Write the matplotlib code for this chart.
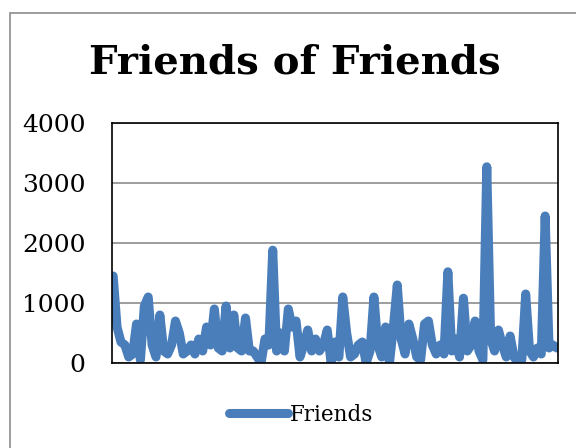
import matplotlib
matplotlib.use("Agg")
import matplotlib.pyplot as plt
from matplotlib.patches import Rectangle

# friend counts, left to right
friends = [1450, 600, 350, 300, 100, 150, 650, 50, 950, 1100,
           300, 100, 800, 200, 150, 300, 700, 500, 150, 200,
           300, 150, 400, 200, 600, 300, 900, 250, 200, 950,
           250, 800, 250, 200, 750, 200, 200, 100, 0, 400,
           300, 1880, 200, 500, 200, 900, 600, 700, 100, 300,
           550, 200, 400, 200, 300, 550, 0, 350, 100, 1100,
           500, 100, 150, 300, 350, 0, 200, 1100, 300, 100,
           600, 0, 600, 1300, 400, 150, 650, 400, 100, 50,
           650, 700, 300, 150, 300, 150, 1520, 200, 400, 100,
           1080, 200, 300, 700, 200, 50, 3270, 400, 200, 550,
           300, 100, 450, 100, 0, 50, 1150, 200, 100, 250,
           150, 2450, 250, 300, 250]
y_ticks = [0, 1000, 2000, 3000, 4000]

serif = ["DejaVu Serif"]
blue = "#4a7ebb"

fig = plt.figure(figsize=(5.76, 4.48), dpi=100)
fig.patches.append(Rectangle((10 / 576, -0.1), 1.2, (448 - 13) / 448 + 0.1,
                             transform=fig.transFigure, fill=False,
                             edgecolor="#8c8c8c", linewidth=1.2))

ax = fig.add_axes([112 / 576, 85 / 448, 446 / 576, 240 / 448])
ax.plot(range(len(friends)), friends, color=blue, linewidth=6.5,
        solid_joinstyle="round", solid_capstyle="round", label="Friends")
ax.set_xlim(-0.3, len(friends) - 0.7)
ax.set_ylim(0, 4000)
ax.set_yticks(y_ticks)
ax.set_yticklabels([str(t) for t in y_ticks], family=serif, fontsize=18)
ax.set_xticks([])
ax.tick_params(axis="y", length=0, pad=19)
ax.grid(axis="y", color="#8c8c8c", linewidth=1.2)
ax.set_axisbelow(True)
for s in ax.spines.values():
    s.set_color("black")
    s.set_linewidth(1.2)

fig.text(295 / 576, 1 - 63 / 448, "Friends of Friends", ha="center",
         va="center", family=serif, fontsize=29, fontweight="bold")

fig.legend(loc="center", bbox_to_anchor=(301 / 576, 1 - 415 / 448),
           frameon=False, prop={"family": serif, "size": 15.5},
           handlelength=2.75, handletextpad=0.1)

fig.savefig("out.png", dpi=100)
